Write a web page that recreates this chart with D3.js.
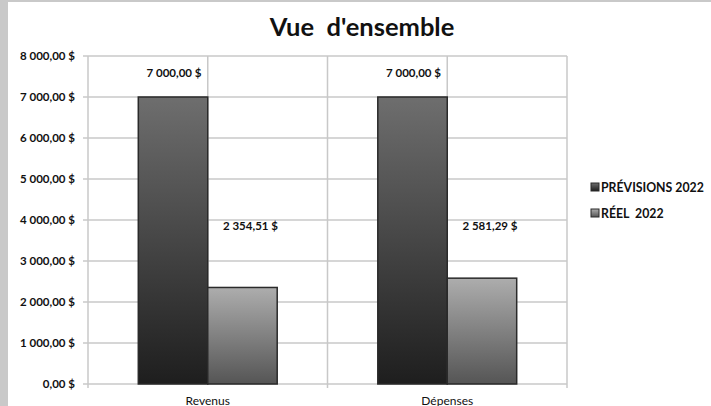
<!DOCTYPE html>
<html>
<head>
<meta charset="utf-8">
<script src="https://cdn.jsdelivr.net/npm/d3@7"></script>
<style>
  body { margin: 0; background: #fff; }
  text { font-family: Lato, "Open Sans", sans-serif; fill: #111; }
</style>
</head>
<body>
<svg id="vis" width="711" height="406"></svg>
<script>
// chart data
const categories = ["Revenus", "Dépenses"];
const series = ["PRÉVISIONS 2022", "RÉEL  2022"];
const previsions = [7000, 7000];
const reel = [2354.51, 2581.29];
const yTicks = [0, 1000, 2000, 3000, 4000, 5000, 6000, 7000, 8000];

const fmt = v => {
  let s = v.toFixed(2).split(".");
  let ent = s[0].replace(/\B(?=(\d{3})+(?!\d))/g, " ");
  return ent + "," + s[1] + " $";
};

let svg = d3.select("#vis");
let width = 711, height = 406;
let m = { left: 88, right: 567, top: 56, bottom: 384 };

// page frame
svg.append("rect").attr("x", 0).attr("y", 0).attr("width", width).attr("height", height).attr("fill", "#c9c9c9");
svg.append("rect").attr("x", 8).attr("y", 2).attr("width", width - 8).attr("height", height - 2).attr("fill", "#fff");

let defs = svg.append("defs");
let g1 = defs.append("linearGradient").attr("id", "gDark").attr("x1", 0).attr("y1", 0).attr("x2", 0).attr("y2", 1);
g1.append("stop").attr("offset", "0%").attr("stop-color", "#6e6e6e");
g1.append("stop").attr("offset", "100%").attr("stop-color", "#1e1e1e");
let g2 = defs.append("linearGradient").attr("id", "gLight").attr("x1", 0).attr("y1", 0).attr("x2", 0).attr("y2", 1);
g2.append("stop").attr("offset", "0%").attr("stop-color", "#adadad");
g2.append("stop").attr("offset", "100%").attr("stop-color", "#555");

let x = d3.scaleBand().domain(categories).range([m.left, m.right]).padding(0);
let y = d3.scaleLinear().domain([0, 8000]).range([m.bottom, m.top]);
let bw = x.bandwidth() * 0.29;

// title
svg.append("text").attr("x", 362).attr("y", 36).attr("text-anchor", "middle")
  .style("font-size", "25.5px").style("font-weight", "bold").style("white-space", "pre")
  .attr("xml:space", "preserve").text("Vue  d'ensemble");

// grid
let grid = svg.append("g").attr("stroke", "#c8c8c8").attr("stroke-width", 1.5);
grid.selectAll("line.h").data(yTicks).enter().append("line")
  .attr("x1", m.left - 5).attr("x2", m.right).attr("y1", d => y(d)).attr("y2", d => y(d));
let vx = [];
categories.forEach(c => { vx.push(x(c)); vx.push(x(c) + x.bandwidth() / 2); });
vx.push(m.right);
grid.selectAll("line.v").data(vx).enter().append("line")
  .attr("x1", d => d).attr("x2", d => d).attr("y1", m.top)
  .attr("y2", (d, i) => i % 2 === 0 ? m.bottom + 4 : m.bottom);

// y axis labels
svg.append("g").selectAll("text").data(yTicks).enter().append("text")
  .attr("x", 75).attr("y", d => y(d) + 4).attr("text-anchor", "end")
  .style("font-size", "11.5px").style("font-weight", "bold").text(d => fmt(d));

// bars
let groups = svg.append("g").selectAll("g").data(categories).enter().append("g");
groups.append("rect")
  .attr("x", d => x(d) + x.bandwidth() / 2 - bw)
  .attr("y", (d, i) => y(previsions[i]))
  .attr("width", bw).attr("height", (d, i) => y(0) - y(previsions[i]))
  .attr("fill", "url(#gDark)").attr("stroke", "#2a2a2a").attr("stroke-width", 1.5);
groups.append("rect")
  .attr("x", d => x(d) + x.bandwidth() / 2)
  .attr("y", (d, i) => y(reel[i]))
  .attr("width", bw).attr("height", (d, i) => y(0) - y(reel[i]))
  .attr("fill", "url(#gLight)").attr("stroke", "#2a2a2a").attr("stroke-width", 1.5);

// value labels
groups.append("text")
  .attr("x", d => x(d) + x.bandwidth() / 2 - bw / 2 + 1)
  .attr("y", (d, i) => y(previsions[i]) - 20).attr("text-anchor", "middle")
  .style("font-size", "11.5px").style("font-weight", "bold").text((d, i) => fmt(previsions[i]));
groups.append("text")
  .attr("x", d => x(d) + x.bandwidth() / 2 + bw / 2 + 8)
  .attr("y", y(3850) + 4).attr("text-anchor", "middle")
  .style("font-size", "11.5px").style("font-weight", "bold").text((d, i) => fmt(reel[i]));

// x labels
svg.append("g").selectAll("text").data(categories).enter().append("text")
  .attr("x", d => x(d) + x.bandwidth() / 2).attr("y", 405).attr("text-anchor", "middle")
  .style("font-size", "12px").text(d => d);

// legend
let leg = svg.append("g").selectAll("g").data(series).enter().append("g")
  .attr("transform", (d, i) => "translate(591," + (187 + i * 26) + ")");
leg.append("rect").attr("x", 0).attr("y", -4).attr("width", 8).attr("height", 8)
  .attr("fill", (d, i) => i === 0 ? "url(#gDark)" : "url(#gLight)")
  .attr("stroke", "#2a2a2a").attr("stroke-width", 1);
leg.append("text").attr("x", 10).attr("y", 4.5).attr("xml:space", "preserve")
  .style("font-size", "12.3px").style("font-weight", "bold").style("white-space", "pre").text(d => d);
</script>
</body>
</html>
